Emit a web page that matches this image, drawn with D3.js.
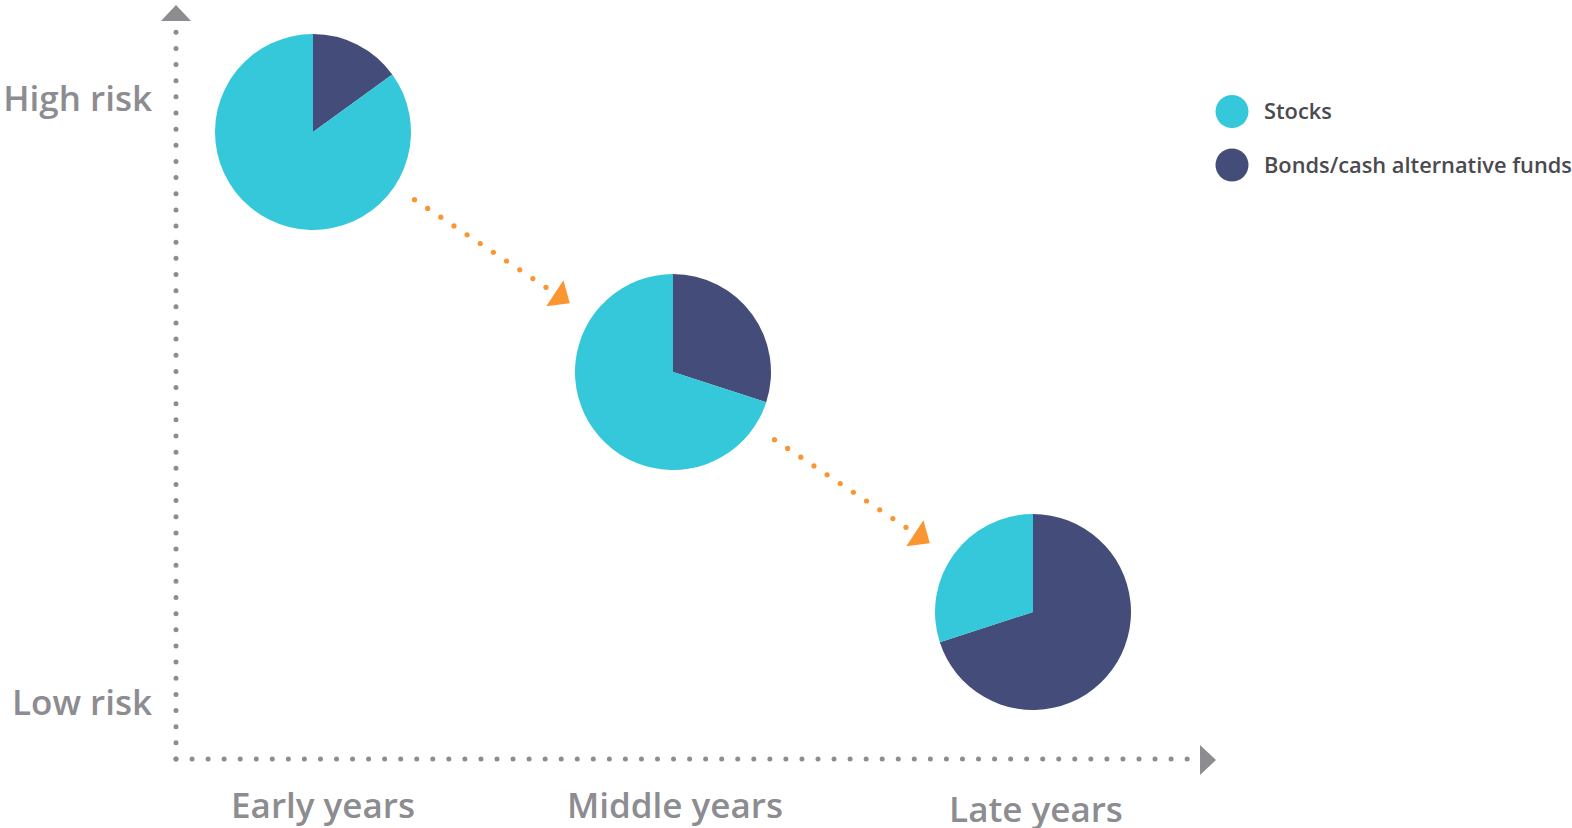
<!DOCTYPE html>
<html>
<head>
<meta charset="utf-8">
<script src="https://cdn.jsdelivr.net/npm/d3@7"></script>
<style>
  html, body { margin: 0; padding: 0; background: #fff; }
  svg { display: block; font-family: "Open Sans", sans-serif; }
</style>
</head>
<body>
<div id="chart"></div>
<script>
// data
var stages = ['Early years', 'Middle years', 'Late years'];
var riskLevel = [3, 2, 1];
var stocksPct = [85, 70, 30];
var bondsPct = [15, 30, 70];
var seriesNames = ['Stocks', 'Bonds/cash alternative funds'];
var riskLabels = ['High risk', 'Low risk'];

var W = 1572, H = 828;
var colStocks = '#34c8da', colBonds = '#444d7a';
var colAxis = '#8c8c91', colArrow = '#fa9631';

var svg = d3.select('#chart').append('svg').attr('width', W).attr('height', H);

var x = d3.scalePoint().domain(stages).range([313, 1033]);
var y = d3.scaleLinear().domain([1, 3]).range([612, 132]);
var R = 98;

// axes (dotted) + arrow heads
var ox = 176, oy = 759;
svg.append('line').attr('x1', ox).attr('y1', oy).attr('x2', ox).attr('y2', 30)
    .attr('stroke', colAxis).attr('stroke-width', 5).attr('stroke-linecap', 'round')
    .attr('stroke-dasharray', '0,16.15');
svg.append('line').attr('x1', ox).attr('y1', oy).attr('x2', 1190).attr('y2', oy)
    .attr('stroke', colAxis).attr('stroke-width', 5).attr('stroke-linecap', 'round')
    .attr('stroke-dasharray', '0,16.05');
svg.append('path').attr('d', 'M' + ox + ',5 L' + (ox + 15) + ',21 L' + (ox - 15) + ',21 Z').attr('fill', colAxis);
svg.append('path').attr('d', 'M1216,' + (oy + 1) + ' L1200,' + (oy - 14) + ' L1200,' + (oy + 16) + ' Z').attr('fill', colAxis);

// risk labels
svg.selectAll('text.risk').data(riskLabels).enter().append('text')
    .attr('class', 'risk')
    .attr('x', 152).attr('y', (d, i) => i == 0 ? 111 : 715)
    .attr('text-anchor', 'end')
    .style('font-size', '35px').style('font-weight', 600).style('fill', colAxis)
    .text(d => d);

// stage labels (slightly staggered as in the original)
var stageDx = [10, 2, 3], stageY = [818, 818, 822];
svg.selectAll('text.stage').data(stages).enter().append('text')
    .attr('class', 'stage')
    .attr('x', (d, i) => x(d) + stageDx[i]).attr('y', (d, i) => stageY[i])
    .attr('text-anchor', 'middle')
    .style('font-size', '35px').style('font-weight', 600).style('fill', colAxis)
    .text(d => d);

// pies
var pie = d3.pie().sort(null).value(d => d.v);
var arc = d3.arc().innerRadius(0).outerRadius(R);
stages.forEach(function(s, i) {
    var g = svg.append('g').attr('transform', 'translate(' + x(s) + ',' + y(riskLevel[i]) + ')');
    var slices = [{k: 'bonds', v: bondsPct[i]}, {k: 'stocks', v: stocksPct[i]}];
    g.selectAll('path').data(pie(slices)).enter().append('path')
        .attr('d', arc)
        .attr('fill', d => d.data.k == 'stocks' ? colStocks : colBonds);
});

// orange dotted arrows between pies
for (var i = 0; i < stages.length - 1; i++) {
    var x1 = x(stages[i]), y1 = y(riskLevel[i]);
    var x2 = x(stages[i + 1]), y2 = y(riskLevel[i + 1]);
    var L = Math.hypot(x2 - x1, y2 - y1);
    var ux = (x2 - x1) / L, uy = (y2 - y1) / L;
    var dots = d3.range(122, 285, 15.8);
    svg.append('g').selectAll('circle').data(dots).enter().append('circle')
        .attr('cx', t => x1 + ux * t).attr('cy', t => y1 + uy * t)
        .attr('r', 2.6).attr('fill', colArrow);
    var tip = L - 124, base = tip - 18, hw = 15.5;
    var tx = x1 + ux * tip, ty = y1 + uy * tip;
    var bx = x1 + ux * base, by = y1 + uy * base;
    svg.append('path')
        .attr('d', 'M' + tx + ',' + ty + ' L' + (bx - uy * hw) + ',' + (by + ux * hw) +
            ' L' + (bx + uy * hw) + ',' + (by - ux * hw) + ' Z')
        .attr('fill', colArrow);
}

// legend
var leg = svg.selectAll('g.leg').data(seriesNames).enter().append('g')
    .attr('class', 'leg')
    .attr('transform', (d, i) => 'translate(1232,' + (111.5 + i * 53.5) + ')');
leg.append('circle').attr('r', 16.5).attr('fill', (d, i) => i == 0 ? colStocks : colBonds);
leg.append('text').attr('x', 32).attr('y', 7.5)
    .style('font-size', '21.8px').style('font-weight', 600).style('fill', '#4a4a50')
    .text(d => d);
</script>
</body>
</html>
